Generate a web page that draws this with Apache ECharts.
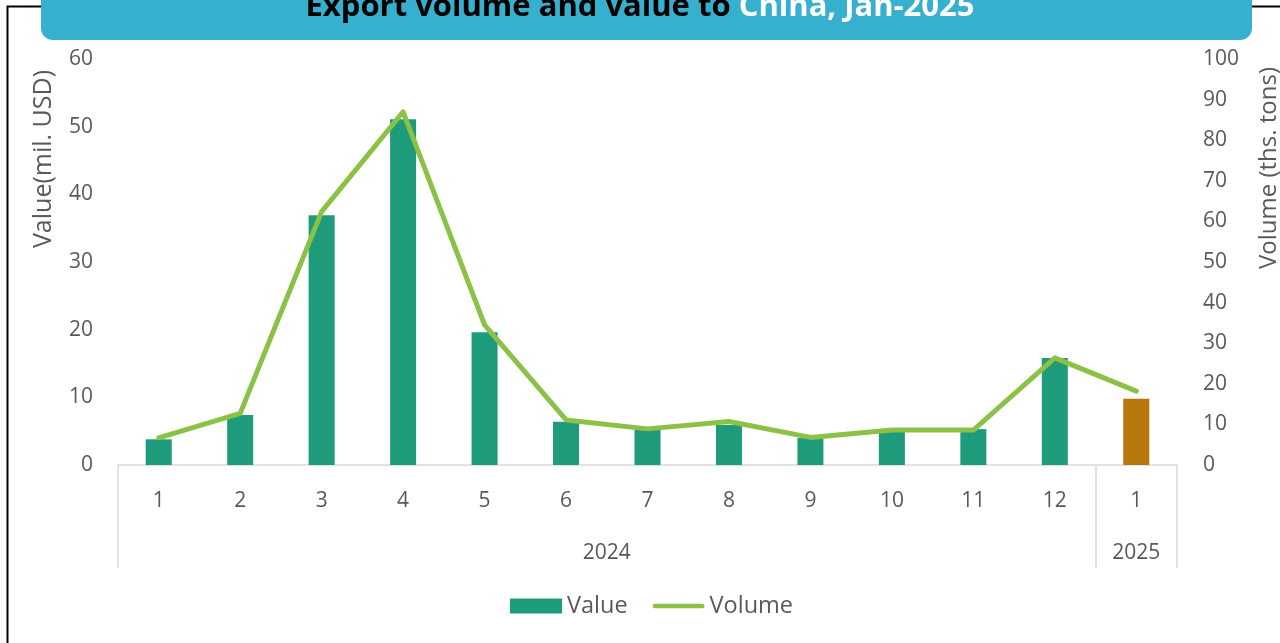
<!DOCTYPE html>
<html>
<head>
<meta charset="utf-8">
<script src="https://cdn.jsdelivr.net/npm/echarts@6/dist/echarts.min.js"></script>
<style>
html,body{margin:0;padding:0;background:#fff;}
#chart{width:1280px;height:643px;}
</style>
</head>
<body>
<div id="chart"></div>
<script>
// ---- data ----
const months = ['1','2','3','4','5','6','7','8','9','10','11','12','1'];
const years  = ['2024','2024','2024','2024','2024','2024','2024','2024','2024','2024','2024','2024','2025'];
const valueMilUSD = [3.8, 7.4, 36.9, 51.1, 19.6, 6.4, 5.2, 5.9, 4.0, 4.9, 5.3, 15.8, 9.8];
const volumeThsTons = [6.7, 12.7, 62.4, 87.0, 34.5, 11.1, 8.9, 10.7, 6.8, 8.6, 8.6, 26.4, 18.2];
const yearGroups = ['2024', '2025'];
const titleBlack = 'Export volume and value to ';
const titleWhite = 'China, Jan-2025';

// ---- derived year group boundaries (from years array) ----
const boundaries = [0];
const groupCenters = [];
let start = 0;
for (let i = 1; i <= years.length; i++) {
  if (i === years.length || years[i] !== years[i - 1]) {
    boundaries.push(i);
    groupCenters.push((start + i) / 2);
    start = i;
  }
}

const FONT = 'Open Sans';
const TXT = '#595959';
const GREEN = '#1E9B7A';
const ORANGE = '#B8760D';
const LIME = '#8BC246';
const chart = echarts.init(document.getElementById('chart'));
chart.setOption({
  animation: false,
  backgroundColor: '#fff',
  textStyle: { fontFamily: FONT },
  graphic: [
    { type: 'rect', left: 5, top: 4, shape: { width: 1300, height: 700 },
      style: { fill: 'none', stroke: '#000', lineWidth: 2 }, z: 0 },
    { type: 'rect', left: 41, top: -20, shape: { width: 1211, height: 60, r: [0, 0, 12, 12] },
      style: { fill: '#37AFCF' }, z: 1 },
    { type: 'text', left: 'center', top: -8, z: 2,
      style: {
        rich: {
          b: { fontFamily: 'Open Sans', fontWeight: 'bold', fontSize: 31, fill: '#000' },
          w: { fontFamily: 'Open Sans', fontWeight: 'bold', fontSize: 31, fill: '#fff' }
        },
        text: '{b|' + titleBlack + '}{w|' + titleWhite + '}'
      } }
  ],
  grid: { left: 118, right: 103, top: 59, bottom: 178, containLabel: false, outerBoundsMode: 'none' },
  legend: {
    bottom: 20, left: 505,
    itemWidth: 52, itemHeight: 15, itemGap: 25,
    textStyle: { fontFamily: FONT, fontSize: 23.5, color: TXT },
    data: [
      { name: 'Value', icon: 'rect', itemStyle: { color: GREEN } },
      { name: 'Volume', icon: 'path://M2.5,0 L53.5,0 A2.5,2.5 0 0 1 53.5,5 L2.5,5 A2.5,2.5 0 0 1 2.5,0 Z',
        itemStyle: { color: LIME } }
    ]
  },
  xAxis: [
    {
      type: 'category', data: months, position: 'bottom',
      axisLine: { show: true, lineStyle: { color: '#D9D9D9', width: 1.5 } },
      axisTick: { show: false },
      axisLabel: { interval: 0, margin: 26, fontSize: 21, color: TXT, fontFamily: FONT },
      splitLine: { show: false }
    },
    {
      type: 'value', position: 'bottom', min: 0, max: months.length,
      axisLine: { show: false },
      axisTick: { show: true, customValues: boundaries, length: 103, inside: false,
        lineStyle: { color: '#D9D9D9', width: 1.5 } },
      axisLabel: { customValues: groupCenters, margin: 78, fontSize: 21, color: TXT, fontFamily: FONT,
        formatter: (v) => yearGroups[groupCenters.indexOf(v)] || '' },
      splitLine: { show: false }
    }
  ],
  yAxis: [
    {
      type: 'value', min: 0, max: 60, interval: 10, position: 'left',
      name: 'Value(mil. USD)', nameLocation: 'middle', nameRotate: 90, nameGap: 62,
      nameTextStyle: { fontSize: 25, color: TXT, fontFamily: FONT, padding: [0, 0, 0, 206] },
      axisLine: { show: false }, axisTick: { show: false }, splitLine: { show: false },
      axisLabel: { fontSize: 21, color: TXT, margin: 25, fontFamily: FONT, padding: [4, 0, 0, 0] }
    },
    {
      type: 'value', min: 0, max: 100, interval: 10, position: 'right',
      name: 'Volume (ths. tons)', nameLocation: 'middle', nameRotate: 90, nameGap: 80,
      nameTextStyle: { fontSize: 24, color: TXT, fontFamily: FONT, padding: [0, 0, 0, 188] },
      axisLine: { show: false }, axisTick: { show: false }, splitLine: { show: false },
      axisLabel: { fontSize: 21, color: TXT, margin: 26, fontFamily: FONT, padding: [4, 0, 0, 0] }
    }
  ],
  series: [
    {
      name: 'Value', type: 'bar', xAxisIndex: 0, yAxisIndex: 0, data: valueMilUSD,
      barWidth: 26,
      itemStyle: { color: (p) => years[p.dataIndex] === '2025' ? ORANGE : GREEN },
      z: 2
    },
    {
      name: 'Volume', type: 'line', xAxisIndex: 0, yAxisIndex: 1, data: volumeThsTons,
      symbol: 'none', smooth: false,
      lineStyle: { color: LIME, width: 5, cap: 'round', join: 'round' },
      itemStyle: { color: LIME },
      z: 3
    }
  ]
});
</script>
</body>
</html>
